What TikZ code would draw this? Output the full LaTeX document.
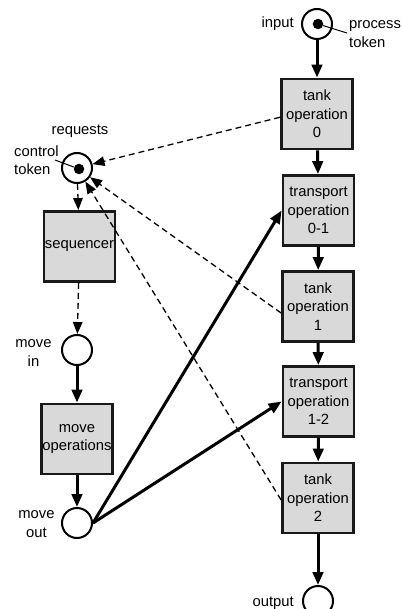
\documentclass[tikz,border=0pt]{standalone}
\usepackage{fontspec}
\setmainfont{Liberation Sans}
\usetikzlibrary{arrows.meta}
\begin{document}
\begin{tikzpicture}[x=1pt,y=-1pt,
  font=\fontsize{14.8}{18.4}\selectfont,
  op/.style={draw=black!90, line width=2.8pt, fill=black!15, minimum width=71pt,
    minimum height=70pt, inner sep=0pt, align=center},
  place/.style={circle, draw, line width=2pt, minimum size=30pt, inner sep=0pt},
  tok/.style={circle, fill, inner sep=0pt, minimum size=10.5pt},
  flow/.style={line width=3pt, -{Triangle[length=13pt,width=10.5pt]}},
  req/.style={line width=1.3pt, dash pattern=on 6pt off 4pt,
    -{Triangle[length=12pt,width=9.5pt]}},
  lbl/.style={inner sep=0pt, align=center},
  pointer/.style={line width=1pt},
]
\useasboundingbox (0,0) rectangle (403,609);

% process chain
\node[place] (inp) at (317,24) {};
\node[tok] (itok) at (318,24) {};
\node[op] (t0) at (317,114) {tank\\operation\\0};
\node[op] (tr01) at (318.5,210.5) {transport\\operation\\0-1};
\node[op] (t1) at (318,306.5) {tank\\operation\\1};
\node[op] (tr12) at (318.5,401.5) {transport\\operation\\1-2};
\node[op] (t2) at (318,498) {tank\\operation\\2};
\node[place] (out) at (318,601) {};

% control chain
\node[place] (ctl) at (77,168) {};
\node[tok] (ctok) at (79,169) {};
\node[op] (seq) at (79.5,246.5) {sequencer};
\node[place] (min) at (77,350) {};
\node[op] (mop) at (77,439) {move\\operations};
\node[place] (mout) at (77,523) {};

% labels
\node[lbl, anchor=east] (inlbl) at (294,24) {input};
\node[lbl, anchor=west, align=left] (ptlbl) at (349,34) {process\\token};
\coordinate (ptend) at (347,33);
\draw[pointer] (itok) -- (ptend);
\node[lbl] (reqlbl) at (80,131) {requests};
\node[lbl, anchor=west, align=left] (ctlbl) at (14,160) {control\\token};
\coordinate (ctend) at (55,160);
\draw[pointer] (ctend) -- (ctok);
\node[lbl] (minlbl) at (33.5,353) {move\\in};
\node[lbl] (moutlbl) at (36.5,524) {move\\out};
\node[lbl, anchor=east] (outlbl) at (294,603) {output};

% flow arcs
\draw[flow] (inp) -- (t0);
\draw[flow] (t0) -- (tr01);
\draw[flow] (tr01) -- (t1);
\draw[flow] (t1) -- (tr12);
\draw[flow] (tr12) -- (t2);
\draw[flow] (t2) -- (out);
\draw[flow] (min) -- (mop);
\draw[flow] (mop) -- (mout);
\draw[flow] (mout.east) -- (tr01.west);
\draw[flow] (mout.east) -- (tr12.west);

% request arcs
\draw[req] (ctl) -- (seq);
\draw[req] (seq) -- (min);
\draw[req] (t0.185) -- (ctl);
\draw[req] (t1.190) -- (ctl);
\draw[req] (t2.183) -- (ctl);
\end{tikzpicture}
\end{document}
